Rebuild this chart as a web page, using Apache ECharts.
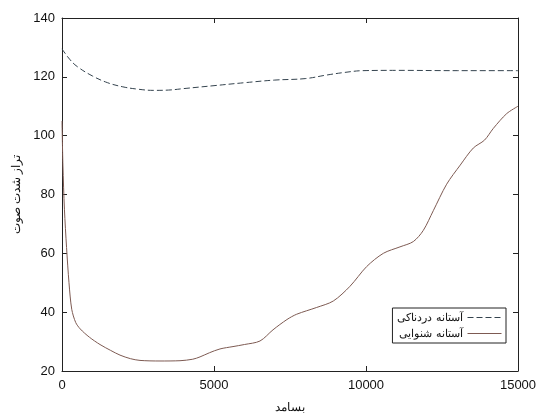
<!DOCTYPE html>
<html>
<head>
<meta charset="utf-8">
<script src="https://cdn.jsdelivr.net/npm/echarts@6/dist/echarts.min.js"></script>
<style>
  html, body { margin: 0; padding: 0; background: #fff; }
  #chart { width: 541px; height: 419px; }
</style>
</head>
<body>
<div id="chart"></div>
<script>
// آستانه دردناکی (dashed)
const painFreq = [0, 250, 500, 1000, 1500, 2000, 2500, 3000, 3500, 4000, 5000, 6000, 7000, 8000, 8700, 9300, 9900, 11000, 13000, 15000];
const painLevel = [129.5, 126, 123.5, 120.3, 118, 116.6, 115.8, 115.4, 115.5, 116, 117, 118, 118.9, 119.4, 120.6, 121.5, 122.1, 122.2, 122.1, 122.1];

// آستانه شنوایی (solid)
const hearFreq = [0, 30, 80, 150, 230, 320, 450, 600, 900, 1250, 1600, 1908, 2250, 2566, 3224, 3882, 4300, 4540, 4850, 5197, 5625, 6000, 6513, 6941, 7400, 7720, 8377, 8925, 9474, 10022, 10570, 11118, 11556, 11885, 12214, 12653, 13100, 13530, 13900, 14190, 14628, 15000];
const hearLevel = [105, 90, 75, 62, 50, 41, 36.5, 34.3, 31.5, 29, 27, 25.4, 24.2, 23.6, 23.4, 23.5, 24, 24.8, 26.2, 27.5, 28.3, 29, 30.2, 34, 37.5, 39.3, 41.6, 43.8, 48.8, 55.5, 60, 62.2, 64, 67.8, 74.5, 83.5, 90, 95.8, 98.5, 102.5, 107.5, 110];

const xTicks = { min: 0, max: 15000, interval: 5000 };
const yTicks = { min: 20, max: 140, interval: 20 };

function pairs(xs, ys) {
  return xs.map((x, i) => [x, ys[i]]);
}

const chart = echarts.init(document.getElementById('chart'));
const font = 'Liberation Sans, Arial, sans-serif';
const frameLine = { show: true, onZero: false, lineStyle: { color: '#222', width: 1 } };
const tick = { show: true, inside: true, length: 5, lineStyle: { color: '#222' } };

chart.setOption({
  animation: false,
  grid: { left: 62, right: 23, top: 18, bottom: 43 },
  legend: {
    right: 35, top: 308,
    orient: 'vertical',
    align: 'right',
    itemWidth: 34, itemHeight: 10, itemGap: 5,
    padding: [4, 4, 4, 5],
    backgroundColor: '#fff',
    borderColor: '#222', borderWidth: 1, borderRadius: 0,
    itemStyle: { opacity: 0 },
    lineStyle: { width: 1 },
    textStyle: { fontFamily: font, fontSize: 11, color: '#111' },
    data: ['آستانه دردناکی', 'آستانه شنوایی']
  },
  xAxis: [{
    type: 'value', ...xTicks,
    name: 'بسامد', nameLocation: 'middle', nameGap: 31,
    nameTextStyle: { fontFamily: font, fontSize: 12, color: '#111' },
    axisLine: frameLine, axisTick: tick, splitLine: { show: false },
    axisLabel: { fontFamily: font, fontSize: 13, color: '#111', margin: 8, formatter: v => String(v) }
  }, {
    type: 'value', ...xTicks, position: 'top',
    axisLine: frameLine, axisTick: tick, splitLine: { show: false },
    axisLabel: { show: false }
  }],
  yAxis: [{
    type: 'value', ...yTicks,
    name: 'تراز شدت صوت', nameLocation: 'middle', nameGap: 38, nameRotate: 90,
    nameTextStyle: { fontFamily: font, fontSize: 12, color: '#111' },
    axisLine: frameLine, axisTick: tick, splitLine: { show: false },
    axisLabel: { fontFamily: font, fontSize: 13, color: '#111', margin: 7 }
  }, {
    type: 'value', ...yTicks, position: 'right',
    axisLine: frameLine, axisTick: tick, splitLine: { show: false },
    axisLabel: { show: false }
  }],
  series: [{
    name: 'آستانه دردناکی',
    type: 'line',
    data: pairs(painFreq, painLevel),
    smooth: 0.4,
    symbol: 'none',
    itemStyle: { color: '#34434e' },
    lineStyle: { color: '#34434e', width: 1, type: [6, 3] }
  }, {
    name: 'آستانه شنوایی',
    type: 'line',
    data: pairs(hearFreq, hearLevel),
    smooth: 0.3,
    symbol: 'none',
    itemStyle: { color: '#7d5a52' },
    lineStyle: { color: '#7d5a52', width: 1 }
  }]
});
</script>
</body>
</html>
